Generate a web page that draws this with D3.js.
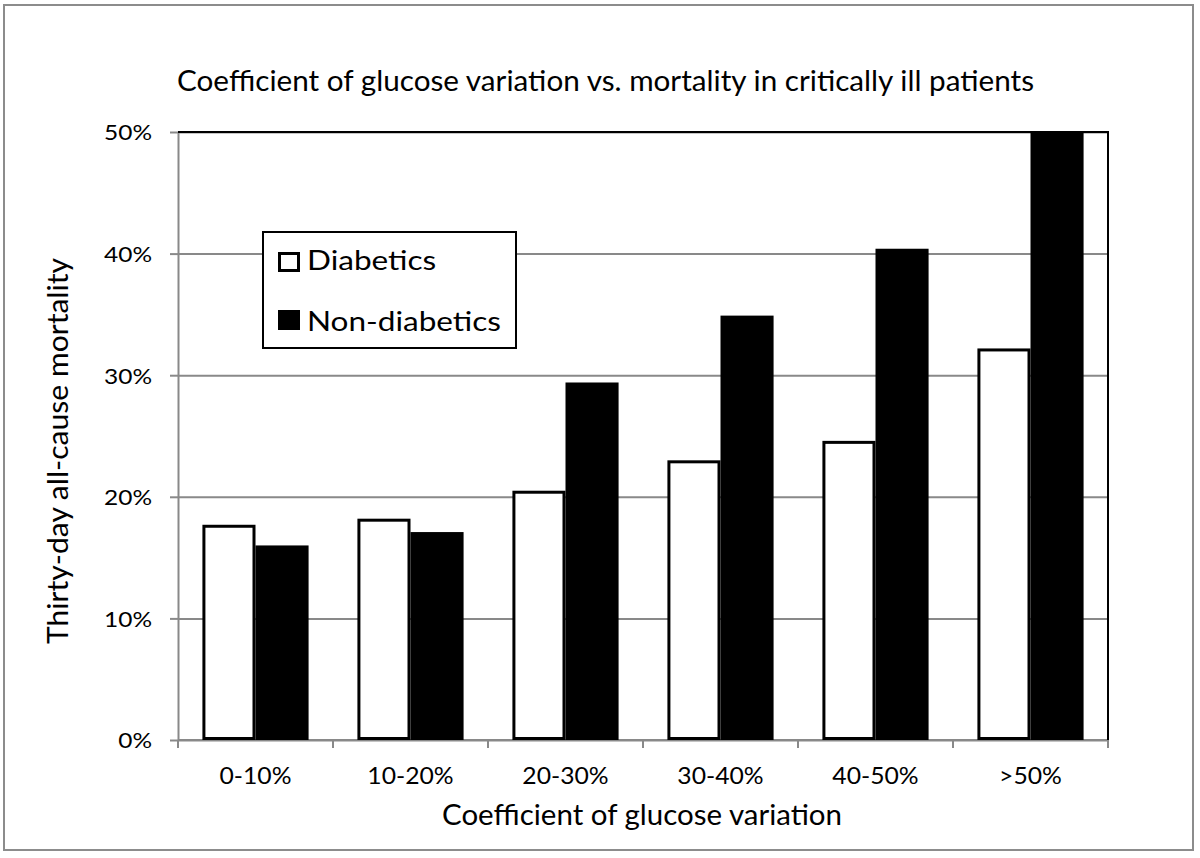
<!DOCTYPE html>
<html><head><meta charset="utf-8">
<script src="https://cdn.jsdelivr.net/npm/d3@7"></script>
<style>
body{margin:0;background:#fff}
svg{display:block}
text{font-family:Lato,"Open Sans",sans-serif;fill:#000}
</style>
</head><body>
<svg id="c" width="1200" height="858"></svg>
<script>
const categories = ["0-10%", "10-20%", "20-30%", "30-40%", "40-50%", ">50%"];
const seriesNames = ["Diabetics", "Non-diabetics"];
const diabetics = [17.7, 18.2, 20.5, 23.0, 24.6, 32.2];
const nonDiabetics = [16.0, 17.1, 29.4, 34.9, 40.4, 50.0];
const yTicks = [0, 10, 20, 30, 40, 50];
const titleText = "Coefficient of glucose variation vs. mortality in critically ill patients";
const xTitleText = "Coefficient of glucose variation";
const yTitleText = "Thirty-day all-cause mortality";

const svg = d3.select("#c");
const m = {left: 178, right: 1108, top: 132, bottom: 740};
const GRID = "#898989";

const x0 = d3.scaleBand().domain(categories).range([m.left, m.right]).paddingInner(0).paddingOuter(0);
const x1 = d3.scaleBand().domain(seriesNames).range([0, x0.bandwidth()]).paddingInner(0).paddingOuter(0.46);
const y = d3.scaleLinear().domain([0, 50]).range([m.bottom, m.top]);

// set font size, then squeeze a group of texts so that the reference element gets width w
function squeeze(sel, fs, refFilter, w) {
  sel.attr("font-size", fs);
  const ref = sel.filter(refFilter).node();
  const ratio = w / ref.getComputedTextLength();
  sel.each(function () {
    const n = this.getComputedTextLength();
    d3.select(this).attr("textLength", n * ratio).attr("lengthAdjust", "spacingAndGlyphs");
  });
}

// outer border
svg.append("rect").attr("x", 4).attr("y", 5).attr("width", 1189).attr("height", 845)
  .attr("fill", "#fff").attr("stroke", "#8c8c8c").attr("stroke-width", 2);

// gridlines
const grid = svg.append("g").attr("transform", `translate(${m.left},0)`)
  .call(d3.axisLeft(y).tickValues(yTicks).tickSize(-(m.right - m.left)).tickFormat(""));
grid.select(".domain").remove();
grid.selectAll("line").attr("stroke", GRID).attr("stroke-width", 2);

// y axis
const yAx = svg.append("g").attr("transform", `translate(${m.left},0)`)
  .call(d3.axisLeft(y).tickValues(yTicks).tickSize(8).tickSizeOuter(0).tickPadding(18).tickFormat(d => d + "%"));
yAx.select(".domain").attr("stroke", GRID).attr("stroke-width", 2);
yAx.selectAll("line").attr("stroke", GRID).attr("stroke-width", 2);
yAx.selectAll("text").attr("font-family", "Lato, sans-serif").attr("dy", "0.36em");
squeeze(yAx.selectAll("text"), 22, d => d === 50, 48);

// x axis (labels at band centers)
const xAx = svg.append("g").attr("transform", `translate(0,${m.bottom})`)
  .call(d3.axisBottom(x0).tickSize(0).tickSizeOuter(0));
xAx.select(".domain").remove();
xAx.selectAll("text").attr("font-family", "Lato, sans-serif").attr("y", 44).attr("dy", 0);
squeeze(xAx.selectAll("text"), 23, d => d === "0-10%", 72);

// x axis line and tick marks at band edges
svg.append("line").attr("x1", m.left).attr("x2", m.right).attr("y1", y(0)).attr("y2", y(0))
  .attr("stroke", GRID).attr("stroke-width", 2);
const edges = categories.map(c => x0(c)).concat([x0(categories[categories.length - 1]) + x0.bandwidth()]);
svg.append("g").selectAll("line").data(edges).join("line")
  .attr("x1", d => d).attr("x2", d => d).attr("y1", y(0)).attr("y2", y(0) + 8)
  .attr("stroke", GRID).attr("stroke-width", 2);

// bars
const rows = categories.map((c, i) => ({cat: c, vals: [diabetics[i], nonDiabetics[i]]}));
const groups = svg.append("g").selectAll("g").data(rows).join("g")
  .attr("transform", d => `translate(${x0(d.cat)},0)`);
groups.selectAll("rect").data(d => d.vals.map((v, j) => ({s: seriesNames[j], v})))
  .join("rect")
  .attr("x", d => x1(d.s) + 1.5)
  .attr("width", x1.bandwidth() - 3)
  .attr("y", d => y(d.v) + 1.5)
  .attr("height", d => y(0) - y(d.v) - 3)
  .attr("fill", d => d.s === "Diabetics" ? "#fff" : "#000")
  .attr("stroke", "#000").attr("stroke-width", 3);

// plot area frame (top & right)
svg.append("path")
  .attr("d", `M${m.left},${m.top}H${m.right}V${m.bottom}`)
  .attr("fill", "none").attr("stroke", "#000").attr("stroke-width", 2);

// legend
const lg = svg.append("g");
lg.append("rect").attr("x", 263).attr("y", 232).attr("width", 253).attr("height", 116)
  .attr("fill", "#fff").attr("stroke", "#000").attr("stroke-width", 2);
const legendRows = [{s: seriesNames[0], yTop: 252, base: 270}, {s: seriesNames[1], yTop: 310, base: 331}];
lg.selectAll("rect.sw").data(legendRows).join("rect").attr("class", "sw")
  .attr("x", 279.5).attr("y", d => d.yTop + 1.5).attr("width", 19).attr("height", 17)
  .attr("fill", d => d.s === "Diabetics" ? "#fff" : "#000")
  .attr("stroke", "#000").attr("stroke-width", 3);
const lt = lg.selectAll("text").data(legendRows).join("text")
  .attr("x", 307).attr("y", d => d.base).text(d => d.s);
squeeze(lt, 27, d => d.s === "Non-diabetics", 194);

// title
const t = svg.append("text").attr("x", 177).attr("y", 91).text(titleText);
squeeze(t, 28, () => true, 857);

// x title
const xt = svg.append("text").attr("x", 442).attr("y", 825).text(xTitleText);
squeeze(xt, 28, () => true, 400);

// y title
const yt = svg.append("text").attr("transform", `translate(68,644) rotate(-90)`).text(yTitleText);
squeeze(yt, 28, () => true, 386);
</script>
</body></html>
